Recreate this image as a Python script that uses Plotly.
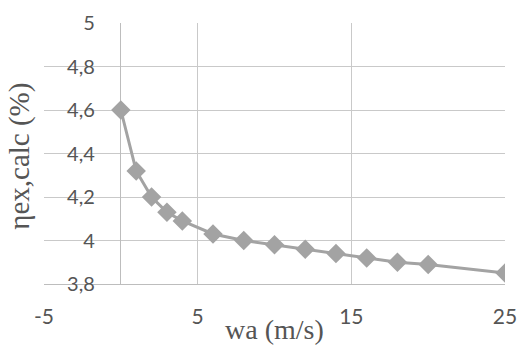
import plotly.graph_objects as go

wa = [0, 1, 2, 3, 4, 6, 8, 10, 12, 14, 16, 18, 20, 25]
eta = [4.60, 4.32, 4.20, 4.13, 4.09, 4.03, 4.00, 3.98, 3.96, 3.94, 3.92, 3.90, 3.89, 3.85]

x_ticks = [-5, 5, 15, 25]
x_labels = ["-5", "5", "15", "25"]
y_ticks = [3.8, 4.0, 4.2, 4.4, 4.6, 4.8, 5.0]

SERIF = "Liberation Serif"

fig = go.Figure()
fig.add_trace(go.Scatter(
    x=wa, y=eta, mode="lines+markers",
    line=dict(color="#a3a3a3", width=3),
    marker=dict(symbol="diamond", size=15, color="#a3a3a3"),
    showlegend=False,
))

grid_col = "#c9c9c9"
fig.update_layout(
    width=521, height=347,
    margin=dict(l=44, r=16, t=23, b=63, autoexpand=False),
    plot_bgcolor="white", paper_bgcolor="white",
    separators=",.",
    font=dict(family="Lato", color="#555555"),
    xaxis=dict(
        range=[-5, 25], tickvals=x_ticks, ticktext=x_labels,
        showgrid=True, gridcolor=grid_col, gridwidth=1,
        zeroline=True, zerolinecolor="#bdbdbd", zerolinewidth=1,
        showline=True, linecolor="#bdbdbd", linewidth=1,
        ticks="outside", ticklen=14, tickcolor="rgba(0,0,0,0)",
        tickfont=dict(size=21, color="#555555"),
        automargin=False,
    ),
    yaxis=dict(
        range=[3.8, 5.0], tickvals=y_ticks,
        showgrid=True, gridcolor=grid_col, gridwidth=1,
        zeroline=False, showline=False,
        anchor="free", position=5/30,
        ticks="outside", ticklen=22, tickcolor="rgba(0,0,0,0)",
        tickfont=dict(size=20, color="#555555"),
        automargin=False,
    ),
    annotations=[
        dict(text="ηex,calc (%)", textangle=-90, showarrow=False,
             xref="paper", yref="paper", x=-0.055, y=0.49,
             xanchor="center", yanchor="middle",
             font=dict(family=SERIF, size=29, color="#555555")),
        dict(text="wa (m/s)", showarrow=False,
             xref="paper", yref="paper", x=0.5, y=-0.175,
             xanchor="center", yanchor="middle",
             font=dict(family=SERIF, size=28, color="#555555")),
    ],
)

fig.write_html("out.html")
